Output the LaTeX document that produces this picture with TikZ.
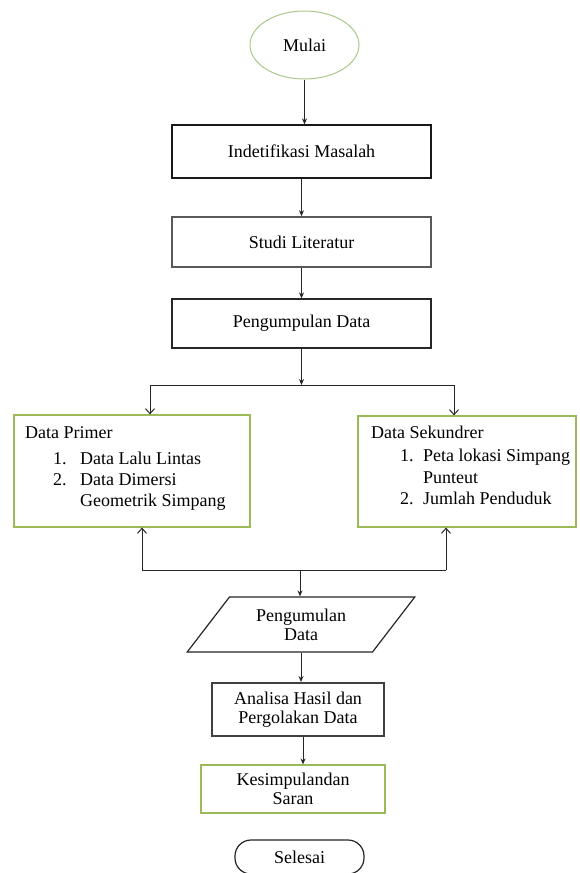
\documentclass[tikz,border=0pt]{standalone}
\usepackage{fontspec}
\setmainfont{Liberation Serif}
\usetikzlibrary{arrows.meta,shapes.geometric}
\definecolor{wgreen}{HTML}{9BBB59}
\definecolor{egreen}{HTML}{A9C98A}
\begin{document}
\begin{tikzpicture}[x=1pt,y=-1pt,
  font=\fontsize{18}{19}\selectfont,
  blk/.style={draw=#1, line width=1.3pt, inner sep=0pt, align=center},
  sz/.style 2 args={minimum width=#1, minimum height=#2},
  arr/.style={draw=black!85, line width=1pt, -{Stealth[length=6pt,width=5pt]}},
  oarr/.style={draw=black!85, line width=1pt, -{Straight Barb[length=5pt,width=9pt]}},
  ln/.style={draw=black!85, line width=1pt},
  txt/.style={anchor=base west, inner sep=0pt}
]
\useasboundingbox (0,0) rectangle (579,873);
\fill[white] (0,0) rectangle (579,873);

% nodes
\node[ellipse, draw=egreen, line width=1pt, inner sep=0pt, sz={109pt}{68pt}] (mulai) at (304.5,45) {Mulai};
\node[blk=black!90, sz={259pt}{53pt}] (box1) at (301.5,151.5) {Indetifikasi Masalah};
\node[blk=black!65, line width=1.6pt, sz={259pt}{50pt}] (box2) at (301.5,242) {Studi Literatur};
\node[blk=black!85, sz={259pt}{49pt}] (box3) at (301.5,323.5) {Pengumpulan Data};

\node[blk=wgreen, line width=1.2pt, sz={236pt}{112pt}] (primer) at (132,471) {};
\node[blk=wgreen, line width=1.2pt, sz={218pt}{111pt}] (sekunder) at (467,471.5) {};

\node[txt] (p0) at (25,438) {Data Primer};
\node[txt] (p1n) at (53,464) {1.};
\node[txt] (p1) at (80,464) {Data Lalu Lintas};
\node[txt] (p2n) at (53,485) {2.};
\node[txt] (p2) at (80,485) {Data Dimersi};
\node[txt] (p3) at (80,506) {Geometrik Simpang};

\node[txt] (s0) at (371,438) {Data Sekundrer};
\node[txt] (s1n) at (400,461) {1.};
\node[txt] (s1) at (423,461) {Peta lokasi Simpang};
\node[txt] (s2) at (423,483) {Punteut};
\node[txt] (s3n) at (400,504) {2.};
\node[txt] (s3) at (423,504) {Jumlah Penduduk};

\node[trapezium, trapezium left angle=50, trapezium right angle=130, trapezium stretches=true,
      draw=black!85, line width=1.2pt, inner sep=0pt, align=center, sz={228pt}{55pt}] (para) at (301,624.5) {Pengumulan\\Data};
\node[blk=black!75, line width=2pt, sz={172pt}{53pt}] (analisa) at (298,709.5) {Analisa Hasil dan\\Pergolakan Data};
\node[blk=wgreen, line width=1.2pt, sz={184pt}{48pt}] (kesimpulan) at (293,789) {Kesimpulandan\\Saran};
\node[draw=black!85, line width=1.2pt, rounded corners=16pt, inner sep=0pt, sz={129pt}{34pt}] (selesai) at (299.5,857) {Selesai};

% junction coordinates
\coordinate (j1) at (301.5,385);
\coordinate (pl) at (150,385);
\coordinate (pr) at (454,385);
\coordinate (ql) at (142,570);
\coordinate (qr) at (446,570);
\coordinate (j2) at (300,570);

% connectors
\draw[arr] (mulai.south) -- (mulai.south |- box1.north);
\draw[arr] (box1.south) -- (box2.north);
\draw[arr] (box2.south) -- (box3.north);
\draw[arr] (box3.south) -- (j1);
\draw[ln] (pl) -- (pr);
\draw[oarr] (pl) -- (pl |- primer.north);
\draw[oarr] (pr) -- (pr |- sekunder.north);
\draw[ln] (ql) -- (qr);
\draw[oarr] (ql) -- (ql |- primer.south);
\draw[oarr] (qr) -- (qr |- sekunder.south);
\draw[arr] (j2) -- (j2 |- para.north);
\draw[arr] (para.south) -- (para.south |- analisa.north);
\draw[arr] ([xshift=5pt]analisa.south) -- ([xshift=5pt]analisa.south |- kesimpulan.north);
\end{tikzpicture}
\end{document}
